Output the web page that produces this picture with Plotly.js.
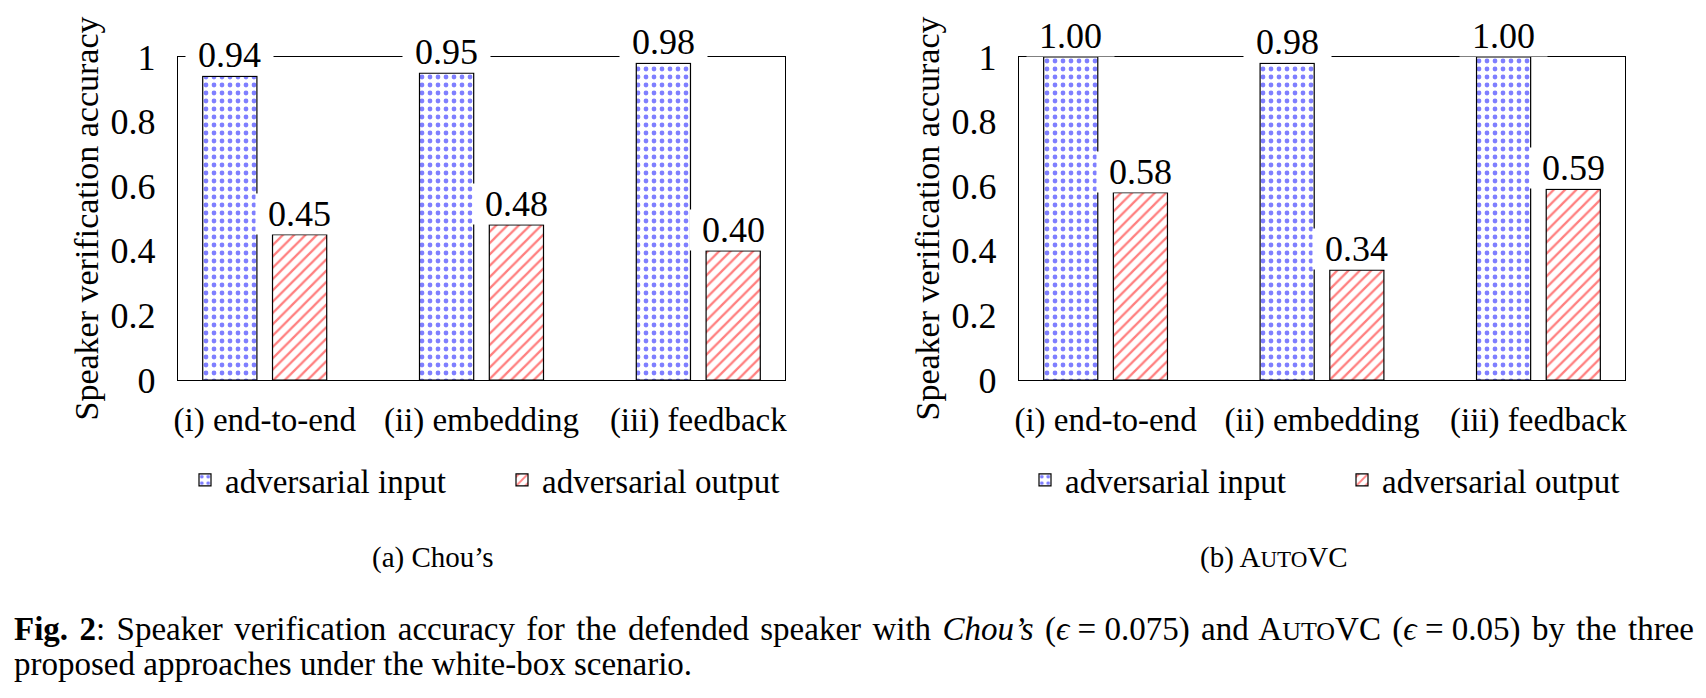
<!DOCTYPE html>
<html>
<head>
<meta charset="utf-8">
<script src="https://cdn.plot.ly/plotly-3.0.1.min.js"></script>
<style>html,body{margin:0;padding:0;background:#fff;}#chart{width:1706px;height:698px;}</style>
</head>
<body>
<div id="chart"></div>
<script>
// ---- data ----
const categories = ['(i) end-to-end', '(ii) embedding', '(iii) feedback'];
const chouInput = [0.94, 0.95, 0.98];
const chouOutput = [0.45, 0.48, 0.40];
const autovcInput = [1.00, 0.98, 1.00];
const autovcOutput = [0.58, 0.34, 0.59];
const seriesNames = ['adversarial input', 'adversarial output'];
const yTickVals = [0, 0.2, 0.4, 0.6, 0.8, 1];
const yTickText = ['0', '0.2', '0.4', '0.6', '0.8', '1'];
const yTitle = 'Speaker verification accuracy';
const subCaptions = ['(a) Chou’s', '(b) A<span style="font-size:23px">UTO</span>VC'];
const captionLine1 = '<b>Fig. 2</b>: Speaker verification accuracy for the defended speaker with <i>Chou’s</i> (<i>ϵ</i>\u2005=\u20050.075) and A<span style="font-size:26px">UTO</span>VC (<i>ϵ</i>\u2005=\u20050.05) by the three';
const captionLine2 = 'proposed approaches under the white-box scenario.';

// ---- geometry helpers (page is 1706x698, margins 0) ----
const W = 1706, H = 698;
const px = v => v / W;
const py = v => 1 - v / H;
const FONT = 'Liberation Serif, Times New Roman, serif';
const NUM = 36, TXT = 33;
const BAR_W = 0.25;
const OFF_IN = -0.286, OFF_OUT = 0.036;

const inputStyle = {
  color: 'white',
  line: {color: 'black', width: 1.2},
  pattern: {shape: '.', fgcolor: '#0000ff', bgcolor: 'white', size: 8, solidity: 0.28, fillmode: 'overlay'}
};
const outputStyle = {
  color: 'white',
  line: {color: 'black', width: 1.2},
  pattern: {shape: '/', fgcolor: '#ff0000', bgcolor: 'white', size: 8, solidity: 0.28, fillmode: 'overlay'}
};

function barTrace(vals, name, style, off, xa, ya, legend) {
  return {
    type: 'bar', x: categories, y: vals, name: name,
    width: BAR_W, offset: off, marker: style,
    xaxis: xa, yaxis: ya, legend: legend, cliponaxis: false,
    hoverinfo: 'skip'
  };
}

const data = [
  barTrace(chouInput, seriesNames[0], inputStyle, OFF_IN, 'x', 'y', 'legend'),
  barTrace(chouOutput, seriesNames[1], outputStyle, OFF_OUT, 'x', 'y', 'legend'),
  barTrace(autovcInput, seriesNames[0], inputStyle, OFF_IN, 'x2', 'y2', 'legend2'),
  barTrace(autovcOutput, seriesNames[1], outputStyle, OFF_OUT, 'x2', 'y2', 'legend2')
];

// value labels with white boxes (cover the frame line like pgfplots nodes)
const annotations = [];
function addLabels(vals, off, xref, yref) {
  vals.forEach((v, i) => {
    annotations.push({
      x: i + off + BAR_W / 2, y: v, xref: xref, yref: yref,
      text: '\u2004' + v.toFixed(2) + '\u2004',
      showarrow: false, xanchor: 'center', yanchor: 'middle', yshift: 21,
      bgcolor: 'white', borderpad: 0,
      font: {family: FONT, size: NUM, color: 'black'}
    });
  });
}
addLabels(chouInput, OFF_IN, 'x', 'y');
addLabels(chouOutput, OFF_OUT, 'x', 'y');
addLabels(autovcInput, OFF_IN, 'x2', 'y2');
addLabels(autovcOutput, OFF_OUT, 'x2', 'y2');

// y titles
[86, 927].forEach(xp => {
  annotations.push({
    x: px(xp), y: py(218.5), xref: 'paper', yref: 'paper', text: yTitle,
    textangle: -90, showarrow: false, xanchor: 'center', yanchor: 'middle',
    font: {family: FONT, size: 34, color: 'black'}
  });
});
// sub captions
[[433, subCaptions[0]], [1274, subCaptions[1]]].forEach(([xp, t]) => {
  annotations.push({
    x: px(xp), y: py(557), xref: 'paper', yref: 'paper', text: t,
    showarrow: false, xanchor: 'center', yanchor: 'middle',
    font: {family: FONT, size: 29, color: 'black'}
  });
});
// figure caption
const CAP1 = annotations.length;
annotations.push({
  x: px(12), y: py(629), xref: 'paper', yref: 'paper', text: captionLine1,
  showarrow: false, xanchor: 'left', yanchor: 'middle', align: 'left',
  font: {family: FONT, size: 33, color: 'black'}
});
annotations.push({
  x: px(12), y: py(664), xref: 'paper', yref: 'paper', text: captionLine2,
  showarrow: false, xanchor: 'left', yanchor: 'middle', align: 'left',
  font: {family: FONT, size: 33, color: 'black'}
});

function xAxis(d0, d1, anchor) {
  return {
    domain: [px(d0), px(d1)], anchor: anchor, type: 'category', range: [-0.4, 2.4],
    showline: true, mirror: true, linecolor: 'black', linewidth: 1.2,
    showgrid: false, zeroline: false, ticks: '', ticklabelstandoff: 10,
    tickfont: {family: FONT, size: TXT, color: 'black'}, fixedrange: true, automargin: false
  };
}
function yAxis(anchor) {
  return {
    domain: [py(380), py(57)], anchor: anchor, range: [0, 1],
    tickvals: yTickVals, ticktext: yTickText,
    showline: true, mirror: true, linecolor: 'black', linewidth: 1.2,
    showgrid: false, zeroline: false, ticks: '', ticklabelstandoff: 14,
    tickfont: {family: FONT, size: NUM, color: 'black'}, fixedrange: true, automargin: false
  };
}
function legend(xp) {
  return {
    orientation: 'h', x: px(xp), y: py(452), xanchor: 'left', yanchor: 'top',
    xref: 'paper', yref: 'paper', entrywidth: 272, entrywidthmode: 'pixels',
    font: {family: FONT, size: TXT, color: 'black'}, bgcolor: 'rgba(0,0,0,0)',
    traceorder: 'normal'
  };
}

const layout = {
  width: W, height: H, margin: {l: 0, r: 0, t: 0, b: 0, autoexpand: false},
  paper_bgcolor: 'white', plot_bgcolor: 'white',
  barmode: 'overlay', showlegend: true,
  font: {family: FONT, color: 'black'},
  xaxis: xAxis(178, 785, 'y'), yaxis: yAxis('x'),
  xaxis2: xAxis(1019, 1625, 'y2'), yaxis2: yAxis('x2'),
  legend: legend(185), legend2: legend(1025),
  annotations: annotations
};

Plotly.newPlot('chart', data, layout, {staticPlot: true, displayModeBar: false}).then(gd => {
  // justify the first caption line (TeX-style interword stretch)
  const t = gd.querySelector('g.annotation[data-index="' + CAP1 + '"] text.annotation-text');
  if (t) {
    const w = t.getBBox().width;
    const nSpaces = (t.textContent.match(/ /g) || []).length;
    const target = 1692 - 12;
    if (nSpaces > 0 && w < target) {
      t.style.wordSpacing = ((target - w) / nSpaces).toFixed(2) + 'px';
    }
  }
});
</script>
</body>
</html>
